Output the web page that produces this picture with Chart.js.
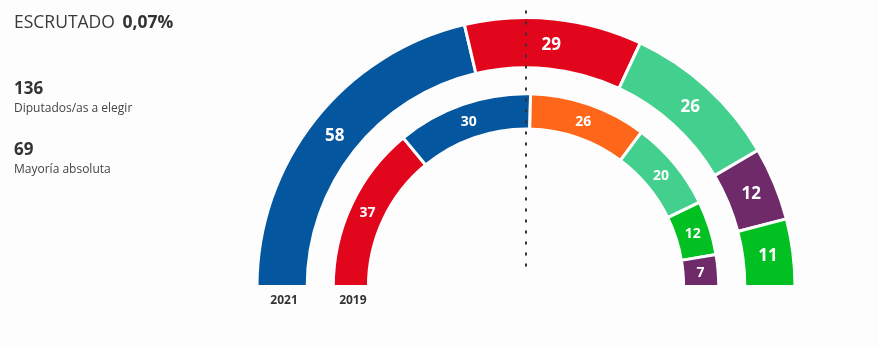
<!DOCTYPE html>
<html>
<head>
<meta charset="utf-8">
<script src="https://cdn.jsdelivr.net/npm/chart.js@4/dist/chart.umd.min.js"></script>
<style>
  html, body { margin: 0; padding: 0; background: #fdfdfd; }
  #wrap { position: relative; width: 878px; height: 347px; overflow: hidden; font-family: 'Open Sans', sans-serif; }
  #c { position: absolute; left: 0; top: 0; }
  .t { position: absolute; left: 14px; line-height: 1; white-space: nowrap; color: #333; }
  #esc { top: 13px; font-size: 17.5px; color: #3a3a3a; }
  #esc b { margin-left: 3px; color: #333; }
  .num { font-size: 17px; font-weight: 700; color: #333; }
  .lab { font-size: 12px; color: #444; }
</style>
</head>
<body>
<div id="wrap">
  <canvas id="c" width="878" height="347"></canvas>
  <div class="t" id="esc">ESCRUTADO <b>0,07%</b></div>
  <div class="t num" style="top:79px">136</div>
  <div class="t lab" style="top:101.5px">Diputados/as a elegir</div>
  <div class="t num" style="top:140px">69</div>
  <div class="t lab" style="top:163px">Mayoría absoluta</div>
</div>
<script>
// ---- data ----
const years = ['2021', '2019'];
const parties2021 = ['PP', 'PSOE', 'Más Madrid', 'Unidas Podemos', 'Vox'];
const seats2021 = [58, 29, 26, 12, 11];
const colors2021 = ['#04569f', '#e1061b', '#43cf8d', '#6f2b69', '#02c021'];
const parties2019 = ['PSOE', 'PP', 'Cs', 'Más Madrid', 'Vox', 'Podemos'];
const seats2019 = [37, 30, 26, 20, 12, 7];
const colors2019 = ['#e1061b', '#04569f', '#fe6619', '#43cf8d', '#02c021', '#6f2b69'];
const majority = 69;

const labelPlugin = {
  id: 'labels',
  afterDatasetsDraw(chart) {
    const ctx = chart.ctx;
    const m0 = chart.getDatasetMeta(0);
    const m2 = chart.getDatasetMeta(2);
    const a0 = m0.data[0];
    const cx = a0.x, cy = a0.y;
    // dotted majority line
    ctx.save();
    ctx.strokeStyle = '#333';
    ctx.lineWidth = 2;
    ctx.setLineDash([3, 8]);
    ctx.beginPath();
    ctx.moveTo(cx, cy - a0.outerRadius - 7);
    ctx.lineTo(cx, cy - 20);
    ctx.stroke();
    ctx.restore();
    // values
    ctx.save();
    ctx.fillStyle = '#fff';
    ctx.textAlign = 'center';
    ctx.textBaseline = 'middle';
    [[m0, seats2021, 17], [m2, seats2019, 14]].forEach(([meta, vals, fs]) => {
      ctx.font = '700 ' + fs + 'px "Open Sans"';
      meta.data.forEach((arc, i) => {
        const p = arc.tooltipPosition();
        ctx.fillText(String(vals[i]), p.x, p.y + 1);
      });
    });
    // year labels
    ctx.fillStyle = '#333';
    ctx.font = '700 12px "Open Sans"';
    ctx.textBaseline = 'alphabetic';
    [[m0, years[0]], [m2, years[1]]].forEach(([meta, y]) => {
      const a = meta.data[0];
      ctx.fillText(y, cx - (a.innerRadius + a.outerRadius) / 2 + 2, cy + 17);
    });
    ctx.restore();
  }
};

new Chart(document.getElementById('c'), {
  type: 'doughnut',
  data: {
    labels: parties2021,
    datasets: [
      { data: seats2021, backgroundColor: colors2021, borderColor: '#fdfdfd', borderWidth: 3, weight: 50 },
      { data: [1], backgroundColor: 'rgba(0,0,0,0)', borderWidth: 0, weight: 26 },
      { data: seats2019, backgroundColor: colors2019, borderColor: '#fdfdfd', borderWidth: 3, weight: 35 }
    ]
  },
  options: {
    responsive: false,
    animation: false,
    events: [],
    rotation: -90,
    circumference: 180,
    radius: 269,
    cutout: (157 / 268 * 100) + '%',
    layout: { padding: { left: 258, right: 84, top: 18, bottom: 61 } },
    plugins: { legend: { display: false }, tooltip: { enabled: false } }
  },
  plugins: [labelPlugin]
});
</script>
</body>
</html>
